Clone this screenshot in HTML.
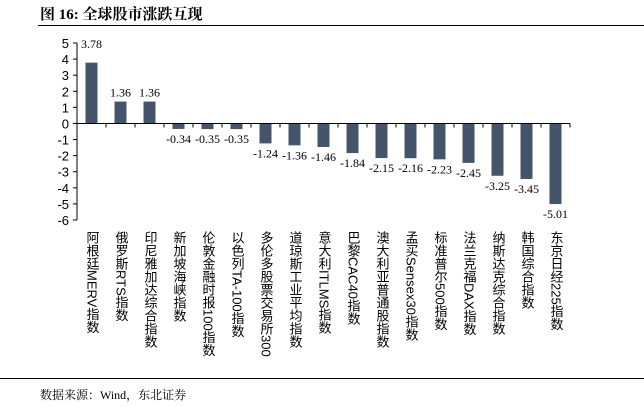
<!DOCTYPE html>
<html><head><meta charset="utf-8">
<style>
body{margin:0;background:#fff;width:644px;height:407px;overflow:hidden;position:relative;font-family:"Liberation Sans","Noto Sans CJK SC",sans-serif}
#title{position:absolute;left:40px;top:3px;font:bold 15px "Liberation Serif","Noto Serif CJK SC",serif;color:#000}
#tline{position:absolute;left:38px;top:25px;width:606px;height:1px;background:#000}
#bline{position:absolute;left:0;top:378px;width:644px;height:1px;background:#000}
#src{position:absolute;left:40px;top:386px;font:12px "Liberation Serif","Noto Serif CJK SC",serif;color:#000}
.lab{position:absolute;top:231px;writing-mode:vertical-rl;text-orientation:mixed;font-size:13px;line-height:14px;color:#000;letter-spacing:0}
</style></head><body>
<div id="title">图 16:  全球股市涨跌互现</div>
<div id="tline"></div>
<svg id="chart" width="644" height="407" style="position:absolute;left:0;top:0"></svg>
<div id="labels"></div>
<div id="bline"></div>
<div id="src">数据来源：Wind，东北证券</div>
<script>
const categories=["阿根廷MERV指数","俄罗斯RTS指数","印尼雅加达综合指数","新加坡海峡指数","伦敦金融时报100指数","以色列TA-100指数","多伦多股票交易所300","道琼斯工业平均指数","意大利ITLMS指数","巴黎CAC40指数","澳大利亚普通股指数","孟买Sensex30指数","标准普尔500指数","法兰克福DAX指数","纳斯达克综合指数","韩国综合指数","东京日经225指数"];
const values=[3.78,1.36,1.36,-0.34,-0.35,-0.35,-1.24,-1.36,-1.46,-1.84,-2.15,-2.16,-2.23,-2.45,-3.25,-3.45,-5.01];
const valueLabels=["3.78","1.36","1.36","-0.34","-0.35","-0.35","-1.24","-1.36","-1.46","-1.84","-2.15","-2.16","-2.23","-2.45","-3.25","-3.45","-5.01"];
const yTicks=[5,4,3,2,1,0,-1,-2,-3,-4,-5,-6];
const NS="http://www.w3.org/2000/svg";
const svg=document.getElementById('chart');
const x0=77,x1=570,yTop=43,yBot=220,yMax=5,yMin=-6;
const y=v=>yTop+(yMax-v)*(yBot-yTop)/(yMax-yMin);
const step=(x1-x0)/categories.length;
const xc=i=>x0+step*(i+0.5);
function mk(t,a){const e=document.createElementNS(NS,t);for(const k in a)e.setAttribute(k,a[k]);svg.appendChild(e);return e;}
let ax=mk('line',{x1:x0,y1:yTop,x2:x0,y2:yBot,stroke:'#000','stroke-width':1});


yTicks.forEach(t=>{
 const tk=mk('line',{x1:x0-4,y1:y(t),x2:x0,y2:y(t),stroke:'#000'});
 
 
 const tx=mk('text',{x:x0-8,y:y(t)+5,'text-anchor':'end','font-size':13,'font-family':'Liberation Sans, sans-serif'});
 tx.textContent=t;
 
 
});
values.forEach((v,i)=>{
 const b=mk('rect',{x:xc(i)-6,y:Math.min(y(v),y(0)),width:12,height:Math.abs(y(v)-y(0)),fill:'#44546a'});
 
 
 const tx=mk('text',{x:v>=0?(i==0?xc(i)+1:xc(i)):xc(i),y:v>=0?y(v)-5:y(v)+14,'text-anchor':i==0?'start':'middle','font-size':12,'font-family':'Liberation Serif, serif'});
 if(i==0){tx.setAttribute('x',x0+4);tx.setAttribute('y',y(5)+5);}
 tx.textContent=valueLabels[i];
 
 
});
let xa=mk('line',{x1:x0,y1:y(0),x2:x1,y2:y(0),stroke:'#000'});


for(let i=0;i<=categories.length;i++){
 const tk=mk('line',{x1:x0+step*i,y1:y(0),x2:x0+step*i,y2:y(0)+4,stroke:'#000'});
 
 
}
const L=document.getElementById('labels');
categories.forEach((c,i)=>{
 const d=document.createElement('div');
 d.className='lab';d.style.left=(xc(i)-7)+'px';d.textContent=c;
 
 
 L.appendChild(d);
});
</script>
</body></html>
